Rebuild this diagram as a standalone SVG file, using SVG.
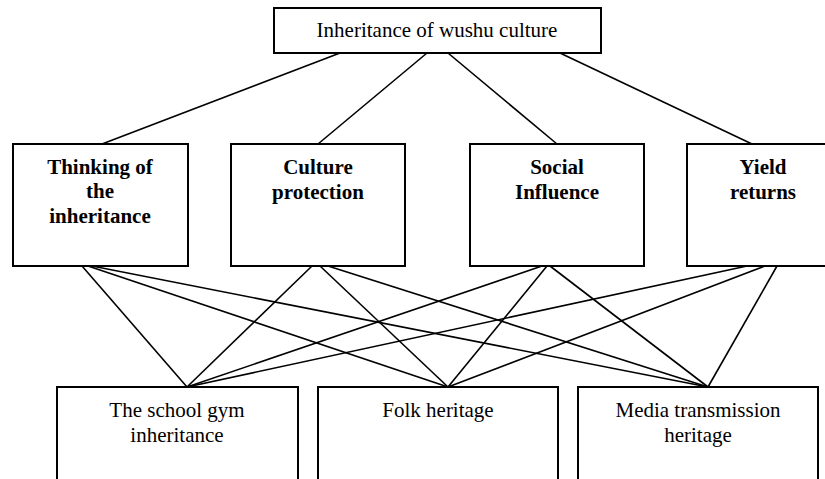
<svg xmlns="http://www.w3.org/2000/svg" width="825" height="479" viewBox="0 0 825 479">
<style>
.box{fill:#fff;stroke:#000;stroke-width:2}
.t{font-family:"Liberation Serif","Times New Roman",serif;font-size:21px;fill:#000;text-anchor:middle}
.b{font-weight:bold}
.c line{stroke:#000;stroke-width:1.6}
</style>
<rect width="825" height="479" fill="#fff"/>
<g class="c" id="connectors">
<line x1="340" y1="53" x2="102" y2="144"/>
<line x1="427" y1="53" x2="318" y2="144"/>
<line x1="448" y1="53" x2="557" y2="144"/>
<line x1="560" y1="53" x2="752" y2="144"/>
<line x1="82" y1="266" x2="187" y2="387"/>
<line x1="88" y1="266" x2="448" y2="387"/>
<line x1="92" y1="266" x2="708" y2="387"/>
<line x1="312" y1="266" x2="187" y2="387"/>
<line x1="320" y1="266" x2="448" y2="387"/>
<line x1="328" y1="266" x2="708" y2="387"/>
<line x1="542" y1="266" x2="187" y2="387"/>
<line x1="547" y1="266" x2="448" y2="387"/>
<line x1="550" y1="266" x2="708" y2="387"/>
<line x1="747" y1="266" x2="187" y2="387"/>
<line x1="765" y1="266" x2="448" y2="387"/>
<line x1="777" y1="266" x2="708" y2="387"/>
</g>
<g id="root">
<rect class="box" x="274" y="8" width="327" height="45"/>
<text class="t" x="437" y="37">Inheritance of wushu culture</text>
</g>
<g id="thinking">
<rect class="box" x="13" y="144" width="175" height="122"/>
<text class="t b" x="100" y="174">Thinking of</text>
<text class="t b" x="100" y="198">the</text>
<text class="t b" x="100" y="223">inheritance</text>
</g>
<g id="culture">
<rect class="box" x="231" y="144" width="174" height="122"/>
<text class="t b" x="318" y="174">Culture</text>
<text class="t b" x="318" y="199">protection</text>
</g>
<g id="social">
<rect class="box" x="470" y="144" width="174" height="122"/>
<text class="t b" x="557" y="174">Social</text>
<text class="t b" x="557" y="199">Influence</text>
</g>
<g id="yield">
<rect class="box" x="687" y="144" width="174" height="122"/>
<text class="t b" x="763" y="174">Yield</text>
<text class="t b" x="763" y="199">returns</text>
</g>
<g id="school">
<rect class="box" x="57" y="387" width="241" height="110"/>
<text class="t" x="177" y="417">The school gym</text>
<text class="t" x="177" y="442">inheritance</text>
</g>
<g id="folk">
<rect class="box" x="318" y="387" width="240" height="110"/>
<text class="t" x="438" y="417">Folk heritage</text>
</g>
<g id="media">
<rect class="box" x="578" y="387" width="240" height="110"/>
<text class="t" x="698" y="417">Media transmission</text>
<text class="t" x="698" y="442">heritage</text>
</g>
</svg>
